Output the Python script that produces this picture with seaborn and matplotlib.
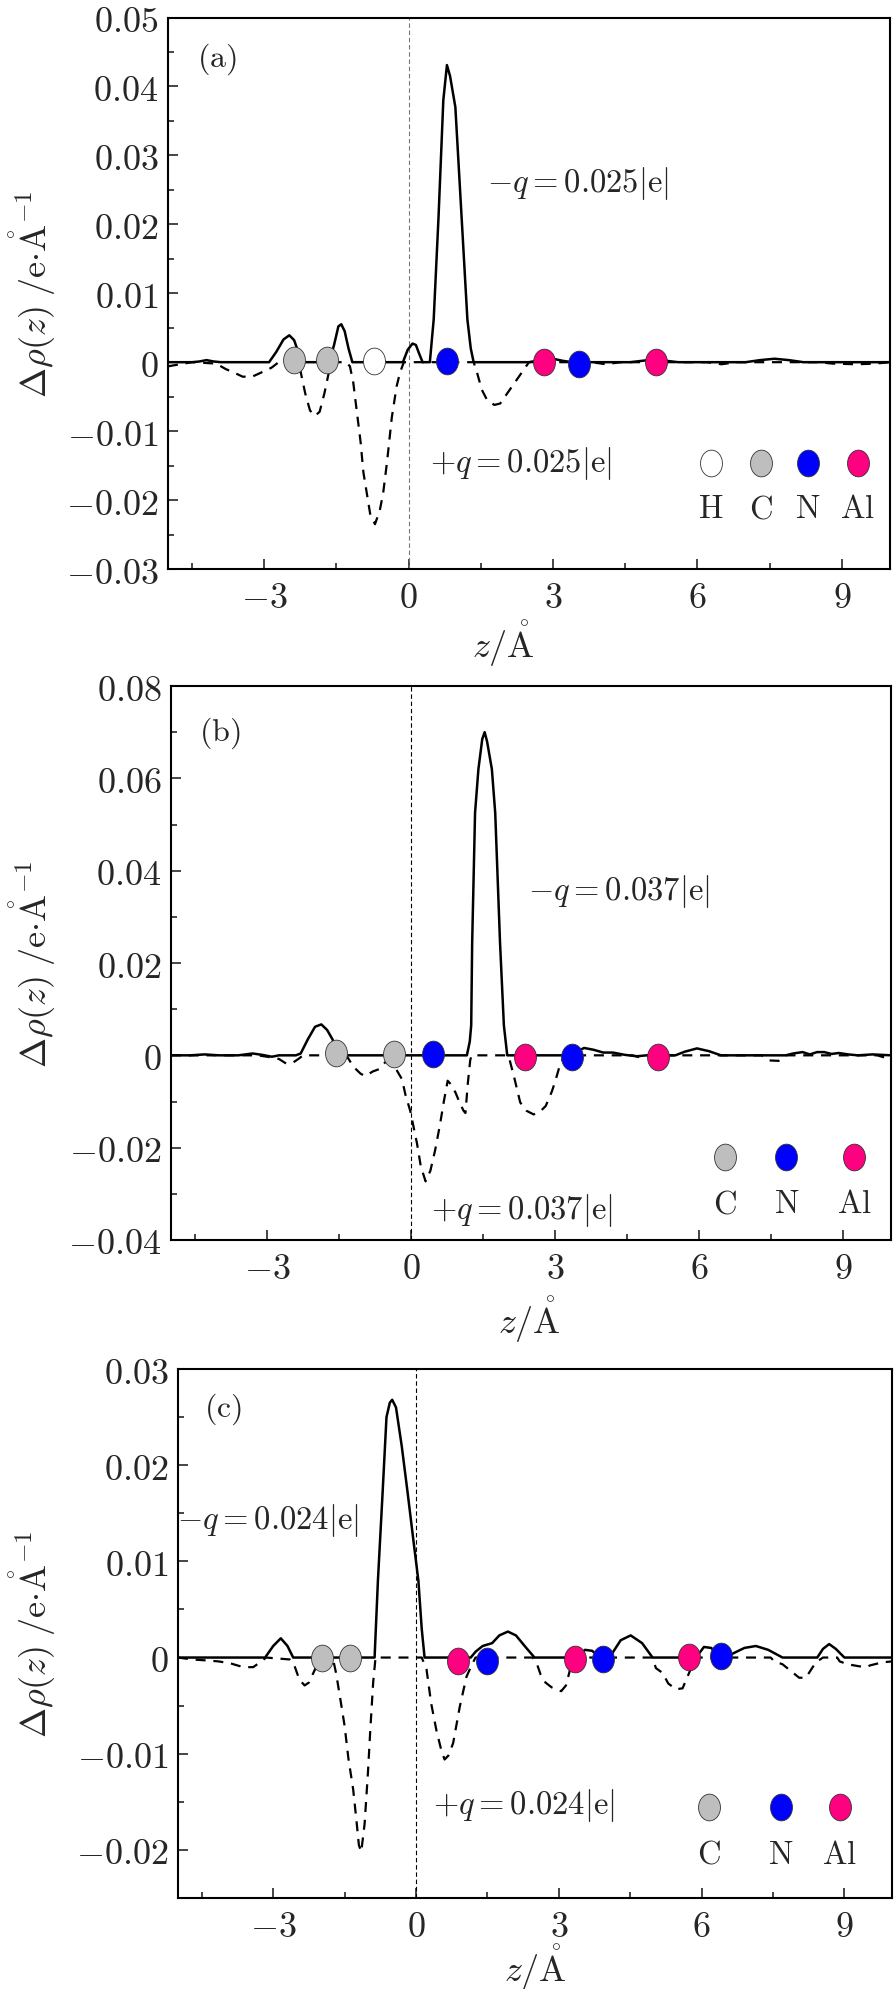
import numpy as np
import pandas as pd
import matplotlib
matplotlib.use("Agg")
import matplotlib.pyplot as plt
import seaborn as sns
from matplotlib.path import Path
from matplotlib.ticker import AutoMinorLocator

# ---------------- data (z in Angstrom, delta rho) ----------------
# panel (a)
a_solid = [(-5.0, 0), (-4.5, 0), (-4.35, 0.0001), (-4.2, 0.0003), (-4.05, 0.0001), (-3.9, 0),
           (-2.9, 0), (-2.75, 0.0015), (-2.6, 0.0033), (-2.48, 0.0039), (-2.38, 0.0032), (-2.28, 0.0012),
           (-2.2, 0), (-1.65, 0), (-1.55, 0.0025), (-1.46, 0.0052), (-1.40, 0.0055), (-1.33, 0.0045),
           (-1.25, 0.002), (-1.17, 0), (-0.12, 0), (-0.02, 0.0018), (0.08, 0.0027), (0.15, 0.0025),
           (0.22, 0.0012), (0.29, 0), (0.44, 0), (0.52, 0.0062), (0.62, 0.021), (0.72, 0.038),
           (0.795, 0.0431), (0.86, 0.0415), (0.97, 0.037), (1.1, 0.021), (1.22, 0.0062), (1.29, 0.002),
           (1.35, 0), (2.5, 0), (2.65, 0.0002), (2.8, 0.0006), (3.0, 0.0005), (3.2, 0.0002), (3.4, 0),
           (4.6, 0), (4.85, 0.0002), (5.1, 0.0004), (5.35, 0.0002), (5.6, 0), (7.0, 0), (7.3, 0.0003),
           (7.6, 0.0005), (7.9, 0.0003), (8.2, 0), (10.0, 0)]
a_dashed = [(-5.0, -0.0006), (-4.75, -0.0003), (-4.5, 0), (-4.0, -0.0002), (-3.8, -0.001), (-3.6, -0.0016),
            (-3.45, -0.0021), (-3.25, -0.0021), (-3.0, -0.0013), (-2.85, -0.0008), (-2.7, 0), (-2.35, 0),
            (-2.25, -0.0012), (-2.15, -0.0045), (-2.05, -0.007), (-1.95, -0.0078), (-1.85, -0.0072),
            (-1.75, -0.0045), (-1.65, -0.0012), (-1.55, 0), (-1.3, 0), (-1.22, -0.0006), (-1.15, -0.003),
            (-1.08, -0.007), (-1.0, -0.0115), (-0.94, -0.016), (-0.87, -0.019), (-0.8, -0.022),
            (-0.7, -0.0235), (-0.6, -0.0215), (-0.53, -0.019), (-0.45, -0.0145), (-0.35, -0.008),
            (-0.25, -0.0035), (-0.18, -0.0015), (-0.1, 0), (1.35, 0), (1.42, -0.0015), (1.52, -0.004),
            (1.63, -0.0055), (1.78, -0.0062), (1.9, -0.006), (2.0, -0.005), (2.15, -0.0035), (2.3, -0.002),
            (2.4, -0.001), (2.5, 0), (3.8, 0), (4.1, -0.0003), (4.4, 0), (6.2, 0), (6.5, -0.0003), (6.8, 0),
            (8.5, 0), (8.8, -0.0002), (9.3, -0.0003), (9.7, -0.0002), (10.0, 0)]
a_atoms = {"H": [(-0.71, 0.0002)],
           "C": [(-2.39, 0.0003), (-1.69, 0.0003)],
           "N": [(0.79, 0.0002), (3.53, -0.0002)],
           "Al": [(2.82, 0.0), (5.13, 0.0)]}
a_legend = ["H", "C", "N", "Al"]
a_yticks = [-0.03, -0.02, -0.01, 0, 0.01, 0.02, 0.03, 0.04, 0.05]

# panel (b)
b_solid = [(-5, 0), (-4.6, 0), (-4.3, 0.0002), (-4.0, 0), (-3.6, 0), (-3.3, 0.0004), (-3.1, 0.0001),
           (-2.9, -0.0003), (-2.75, 0), (-2.4, 0), (-2.3, 0.0004), (-2.15, 0.0035), (-2.0, 0.0062),
           (-1.87, 0.0067), (-1.75, 0.0055), (-1.64, 0.0035), (-1.55, 0.0012), (-1.45, 0), (1.16, 0),
           (1.22, 0.003), (1.25, 0.0065), (1.27, 0.0244), (1.33, 0.0525), (1.40, 0.062), (1.48, 0.0685),
           (1.53, 0.070), (1.58, 0.068), (1.68, 0.062), (1.75, 0.0525), (1.85, 0.0244), (1.93, 0.0065),
           (2.0, 0), (3.3, 0), (3.45, 0.0008), (3.6, 0.0016), (3.8, 0.0012), (4.0, 0.0006), (4.2, 0.0006),
           (4.45, 0.0001), (4.7, -0.0002), (4.9, 0), (5.5, 0), (5.7, 0.0008), (5.95, 0.0015), (6.2, 0.0009),
           (6.45, 0), (7.8, 0), (7.95, 0.0004), (8.15, 0.0007), (8.3, 0.0002), (8.45, 0.0007), (8.6, 0.0007),
           (8.75, 0.0003), (8.9, 0.0005), (9.1, 0.0002), (9.3, 0), (9.6, 0.0002), (9.8, 0.0001), (10, 0)]
b_dashed = [(-5, 0), (-3.2, 0), (-3.0, -0.0003), (-2.88, -0.0005), (-2.75, -0.0008), (-2.6, -0.0018),
            (-2.45, -0.0015), (-2.35, -0.0008), (-2.25, 0), (-1.35, 0), (-1.2, -0.0025), (-1.05, -0.004),
            (-0.95, -0.0045), (-0.8, -0.0035), (-0.67, -0.003), (-0.54, -0.0015), (-0.45, -0.0012),
            (-0.33, -0.0027), (-0.19, -0.0052), (-0.12, -0.0085), (-0.02, -0.012), (0.05, -0.0155),
            (0.12, -0.019), (0.2, -0.024), (0.3, -0.0273), (0.4, -0.025), (0.5, -0.0205), (0.6, -0.015),
            (0.68, -0.01), (0.76, -0.0055), (0.82, -0.0062), (0.92, -0.008), (1.0, -0.010), (1.09, -0.012),
            (1.13, -0.0125), (1.18, -0.006), (1.23, -0.001), (1.26, 0), (2.0, 0), (2.05, -0.001),
            (2.15, -0.005), (2.27, -0.0102), (2.4, -0.012), (2.55, -0.0128), (2.7, -0.012), (2.8, -0.011),
            (2.93, -0.0078), (3.0, -0.0056), (3.1, -0.002), (3.2, 0), (4.6, 0), (4.75, -0.0004), (4.9, 0),
            (7.3, 0), (7.45, -0.0011), (7.65, -0.0012), (7.8, 0), (9.7, 0), (10, -0.0009)]
b_atoms = {"C": [(-1.56, 0.0005), (-0.35, 0.0002)],
           "N": [(0.45, 0.0002), (3.34, -0.0003)],
           "Al": [(2.38, -0.0003), (5.13, -0.0003)]}
b_legend = ["C", "N", "Al"]
b_yticks = [-0.04, -0.02, 0, 0.02, 0.04, 0.06, 0.08]

# panel (c)
c_solid = [(-5, 0), (-3.17, 0), (-3.0, 0.0012), (-2.84, 0.002), (-2.7, 0.0012), (-2.58, 0), (-0.87, 0),
           (-0.80, 0.008), (-0.70, 0.0173), (-0.62, 0.025), (-0.55, 0.0265), (-0.5, 0.0268), (-0.42, 0.026),
           (-0.3, 0.022), (-0.18, 0.0173), (-0.05, 0.012), (0.05, 0.008), (0.12, 0.003), (0.18, 0),
           (1.15, 0), (1.25, 0.0006), (1.4, 0.0012), (1.6, 0.0015), (1.75, 0.0023), (1.93, 0.0027),
           (2.1, 0.0023), (2.3, 0.0011), (2.49, 0), (3.4, 0), (3.55, 0.0008), (3.7, 0.0007), (3.85, 0.0001),
           (4.13, 0.0005), (4.3, 0.0018), (4.51, 0.0023), (4.75, 0.0015), (4.97, 0), (5.88, 0),
           (6.05, 0.0011), (6.2, 0.001), (6.4, 0.0001), (6.65, 0.0004), (6.9, 0.001), (7.14, 0.0012),
           (7.4, 0.0008), (7.7, 0), (8.43, 0), (8.55, 0.0009), (8.68, 0.0014), (8.82, 0.0009), (9.0, 0),
           (10, 0)]
c_dashed = [(-5, 0), (-4.7, -0.0002), (-4.4, -0.0003), (-4.15, -0.0004), (-3.9, -0.0006), (-3.63, -0.001),
            (-3.42, -0.001), (-3.25, -0.0004), (-3.15, 0), (-2.65, -0.0002), (-2.55, -0.0009),
            (-2.45, -0.0023), (-2.34, -0.0029), (-2.25, -0.0026), (-2.1, -0.001), (-1.95, 0), (-1.75, 0),
            (-1.68, -0.0016), (-1.6, -0.004), (-1.5, -0.0071), (-1.42, -0.0105), (-1.32, -0.0137),
            (-1.25, -0.017), (-1.2, -0.0195), (-1.15, -0.0202), (-1.08, -0.0173), (-1.01, -0.012),
            (-0.96, -0.0075), (-0.9, -0.0026), (-0.85, 0), (0.12, 0), (0.22, -0.0012), (0.32, -0.0048),
            (0.43, -0.0076), (0.53, -0.0096), (0.6, -0.0106), (0.68, -0.0102), (0.78, -0.0089),
            (0.92, -0.0051), (1.06, -0.002), (1.16, -0.0009), (1.25, 0), (2.45, 0), (2.55, -0.0008),
            (2.62, -0.0018), (2.72, -0.0026), (2.85, -0.0031), (3.05, -0.0035), (3.15, -0.0029),
            (3.25, -0.001), (3.32, 0), (4.97, 0), (5.04, -0.0011), (5.18, -0.0016), (5.3, -0.0027),
            (5.46, -0.0033), (5.6, -0.0032), (5.78, -0.0011), (5.85, 0), (7.45, 0), (7.53, -0.0004),
            (7.7, -0.0007), (7.9, -0.0015), (8.05, -0.0021), (8.19, -0.0021), (8.4, -0.0005), (8.55, 0),
            (8.85, 0), (8.9, -0.0004), (9.07, -0.0007), (9.3, -0.0009), (9.45, -0.001), (9.55, -0.0008),
            (9.8, -0.0005), (10, -0.0004)]
c_atoms = {"C": [(-1.98, 0.0), (-1.38, 0.0)],
           "N": [(1.49, -0.0004), (3.92, -0.0002), (6.40, 0.0002)],
           "Al": [(0.88, -0.0004), (3.33, -0.0002), (5.73, 0.0001)]}
c_legend = ["C", "N", "Al"]
c_yticks = [-0.02, -0.01, 0, 0.01, 0.02, 0.03]

x_ticks = [-3, 0, 3, 6, 9]
charge_labels = {"a": "0.025", "b": "0.037", "c": "0.024"}

# ---------------- style ----------------
sns.set_style("ticks")
plt.rcParams["mathtext.fontset"] = "cm"
plt.rcParams["font.family"] = ["DejaVu Serif"]

atom_colors = {"H": "#FFFFFF", "C": "#BEBEBE", "N": "#0000FF", "Al": "#FF0080"}
circ = Path.unit_circle()
ellipse = Path(circ.vertices * np.array([0.82, 1.0]), circ.codes)
FS_TICK = 26
FS_TEXT = 23.5
FS_LABEL = 26
FS_XLABEL = 26
MS = 370

fig = plt.figure(figsize=(8.95, 19.90), dpi=100)

panels = [
    dict(key="a", rect=[168 / 895, 1 - 570 / 1990, 722 / 895, 551.5 / 1990], ylim=(-0.03, 0.05),
         yticks=a_yticks, solid=a_solid, dashed=a_dashed, atoms=a_atoms, legend=a_legend,
         leg_x=[6.28, 7.32, 8.30, 9.33], leg_y=-0.0146, leg_ty=-0.0212,
         mq=(1.63, 0.0261), pq=(0.45, -0.0146), tag=(-3.98, 0.0441), vcolor="#777777",
         xl=(0.465, -0.134)),
    dict(key="b", rect=[171 / 895, 1 - 1241 / 1990, 720.5 / 895, 554 / 1990], ylim=(-0.04, 0.08),
         yticks=b_yticks, solid=b_solid, dashed=b_dashed, atoms=b_atoms, legend=b_legend,
         leg_x=[6.53, 7.81, 9.22], leg_y=-0.0221, leg_ty=-0.032,
         mq=(2.43, 0.0356), pq=(0.41, -0.0334), tag=(-3.98, 0.070), vcolor="black",
         xl=(0.497, -0.142)),
    dict(key="c", rect=[178 / 895, 1 - 1899 / 1990, 714 / 895, 529 / 1990], ylim=(-0.025, 0.03),
         yticks=c_yticks, solid=c_solid, dashed=c_dashed, atoms=c_atoms, legend=c_legend,
         leg_x=[6.15, 7.66, 8.90], leg_y=-0.0155, leg_ty=-0.0204,
         mq=(-5.02, 0.0144), pq=(0.36, -0.0153), tag=(-4.05, 0.0259), vcolor="black",
         xl=(0.5, -0.13)),
]


def fmt(v, nd):
    if v == 0:
        return "$0$"
    s = "%.*f" % (nd, abs(v))
    return ("${-}%s$" % s) if v < 0 else ("$%s$" % s)


for p in panels:
    ax = fig.add_axes(p["rect"])
    sz, sv = zip(*p["solid"])
    dz, dv = zip(*p["dashed"])
    ax.axvline(0, color=p["vcolor"], lw=0.8, linestyle=(0, (4, 2.5)), zorder=1)
    sns.lineplot(x=list(dz), y=list(dv), ax=ax, color="black", lw=1.6, linestyle=(0, (4.5, 3.5)),
                 estimator=None, sort=False, zorder=2)
    sns.lineplot(x=list(sz), y=list(sv), ax=ax, color="black", lw=1.8,
                 estimator=None, sort=False, zorder=3)
    for sp, pts in p["atoms"].items():
        zz, yy = zip(*pts)
        sns.scatterplot(x=list(zz), y=list(yy), ax=ax, marker=ellipse, s=MS, color=atom_colors[sp],
                        edgecolor="#333333", linewidth=0.6, zorder=5, legend=False)
    # species key
    for sp, lx in zip(p["legend"], p["leg_x"]):
        sns.scatterplot(x=[lx], y=[p["leg_y"]], ax=ax, marker=ellipse, s=MS, color=atom_colors[sp],
                        edgecolor="#333333", linewidth=0.6, zorder=5, legend=False, clip_on=False)
        ax.text(lx, p["leg_ty"], r"$\mathrm{%s}$" % sp, fontsize=FS_TEXT, ha="center", va="center")
    q = charge_labels[p["key"]]
    ax.text(p["mq"][0], p["mq"][1], r"${-}q=%s|\mathrm{e}|$" % q, fontsize=FS_TEXT, ha="left",
            va="center", zorder=6)
    ax.text(p["pq"][0], p["pq"][1], r"${+}q=%s|\mathrm{e}|$" % q, fontsize=FS_TEXT, ha="left",
            va="center", zorder=6)
    ax.text(p["tag"][0], p["tag"][1], r"$(\mathrm{%s})$" % p["key"], fontsize=23, ha="center",
            va="center")

    ax.set_xlim(-5, 10)
    ax.set_ylim(*p["ylim"])
    ax.set_xticks(x_ticks)
    ax.set_xticklabels([fmt(v, 0) for v in x_ticks])
    ax.set_yticks(p["yticks"])
    ax.set_yticklabels([fmt(v, 2) for v in p["yticks"]])
    ax.xaxis.set_minor_locator(AutoMinorLocator(2))
    ax.yaxis.set_minor_locator(AutoMinorLocator(2))
    ax.tick_params(which="both", direction="in", top=False, right=False, labelsize=FS_TICK, width=1.2)
    ax.tick_params(which="major", length=7)
    ax.tick_params(which="minor", length=4)
    ax.tick_params(axis="x", which="major", pad=8)
    ax.tick_params(axis="y", which="major", pad=7)
    for s in ax.spines.values():
        s.set_linewidth(1.5)
        s.set_color("black")
    ax.set_xlabel(r"$z/\mathring{\mathrm{A}}$", fontsize=FS_XLABEL)
    ax.set_ylabel(r"$\Delta\rho(z)\;/\mathrm{e}{\cdot}\mathring{\mathrm{A}}^{-1}$", fontsize=FS_LABEL)
    ax.xaxis.label.set_va("center")
    ax.xaxis.set_label_coords(p["xl"][0], p["xl"][1])
    ax.yaxis.set_label_coords((58 - p["rect"][0] * 895) / (p["rect"][2] * 895), 0.5)

fig.savefig("out.png", dpi=100)
